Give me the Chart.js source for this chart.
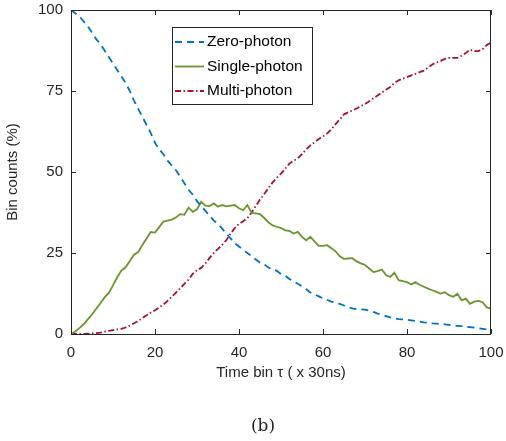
<!DOCTYPE html>
<html>
<head>
<meta charset="utf-8">
<script src="https://cdn.jsdelivr.net/npm/chart.js@4"></script>
<style>
  html, body { margin: 0; padding: 0; background: #fff; }
  #wrap { position: relative; width: 506px; height: 441px; }
  #caption {
    position: absolute; left: 0; width: 526px; top: 415px;
    text-align: center; font-family: "DejaVu Serif", "Liberation Serif", serif;
    font-size: 17px; color: #222;
  }
</style>
</head>
<body>
<div id="wrap">
  <canvas id="photonChart" width="506" height="441"></canvas>
  <div id="caption">(b)</div>
</div>
<script>
// tick labels
var xTicks = [0, 20, 40, 60, 80, 100];
var yTicks = [0, 25, 50, 75, 100];

// bin counts (%) for time bins 0..100
var zeroPhoton = [
  100, 99, 98, 96.5, 95, 93, 91, 89.5, 87.5, 85.5,
  83.5, 81.5, 79.5, 77.5, 75, 72, 69.5, 67, 64.5, 62,
  59, 57, 55.5, 53.5, 52, 50.5, 48.5, 46.5, 44.5, 43,
  41, 39.5, 38, 36.5, 35, 34, 32.5, 31, 29.5, 28,
  27, 26, 25, 24, 23, 22, 21.5, 20.5, 20, 19.5,
  18.5, 18, 17, 16.3, 15.5, 14.7, 13.8, 12.8, 12.2, 11.6,
  11, 10.5, 10, 9.6, 9.3, 8.8, 8.3, 7.9, 7.7, 7.6,
  7.5, 7.2, 6.8, 6.3, 5.9, 5.5, 5.1, 4.8, 4.6, 4.5,
  4.4, 4.2, 4, 3.8, 3.6, 3.5, 3.3, 3.2, 3.1, 3,
  2.8, 2.6, 2.5, 2.4, 2.2, 2.1, 2, 1.8, 1.6, 1.4, 1.3
];
var singlePhoton = [
  0, 0.8, 1.8, 3, 4.5, 6, 7.8, 9.5, 11.3, 12.7,
  15, 17.5, 19.6, 20.6, 22.5, 24.5, 25.3, 27.5, 29.5, 31.5,
  31.3, 33, 34.7, 35, 35.3, 36, 37, 36.8, 39, 37.7,
  38.5, 40.8, 39.6, 39.5, 40.3, 39.3, 39.8, 39.4, 39.6, 39.8,
  38.8, 38.2, 39.8, 37.4, 37.2, 37, 35.8, 34.5, 33.5, 33.1,
  32.7, 32, 31.8, 31, 31.5, 30, 28.9, 30, 28.5, 27.2,
  27.2, 27.4, 26.5, 25.5, 24, 23.2, 23.3, 23.4, 22.4, 21.8,
  21.3, 20.2, 19.1, 19.4, 19.9, 18.2, 17.6, 18.9, 16.6, 16.3,
  16, 15.3, 16, 15.2, 14.6, 14, 13.5, 13, 12.5, 12.9,
  12, 11.5, 12.4, 10.4, 10.9, 9.3, 10, 10.2, 9.8, 8.2, 7.8
];
var multiPhoton = [
  0, 0, 0, 0, 0.1, 0.2, 0.3, 0.4, 0.7, 1,
  1.2, 1.4, 1.6, 2, 2.6, 3.3, 4, 4.9, 5.8, 6.6,
  7.3, 8.2, 9.1, 10.2, 11.5, 12.8, 14.1, 15.5, 16.8, 18.6,
  19.7, 20.4, 21.8, 23.5, 25, 26.3, 27.5, 29, 31, 32.7,
  34, 34.8, 35.8, 37.5, 39.5, 41.5, 43.2, 45, 46.8, 48.2,
  49.5, 51, 52.6, 53.5, 54.2, 55.5, 57, 58.2, 59.2, 60.2,
  61, 61.9, 63.2, 64.8, 66.2, 67.8, 68.4, 69, 69.6, 70.3,
  71, 71.8, 72.8, 73.6, 74.5, 75.4, 76.2, 77.5, 78.3, 78.8,
  79.3, 79.8, 80.3, 80.8, 81.3, 82.2, 83.2, 83.8, 84.3, 84.9,
  85.2, 85.2, 85.2, 85.9, 86.7, 87.8, 87.3, 87.3, 87.9, 89.2, 90
];

var timeBins = zeroPhoton.map(function (v, i) { return i; });

function toPoints(arr) {
  return arr.map(function (v, i) { return { x: timeBins[i], y: v }; });
}

var axisColor = "#262626";
var fontFamily = "'Liberation Sans', Arial, Helvetica, sans-serif";

// MATLAB style box with inward ticks + legend inside the axes
var boxPlugin = {
  id: "boxPlugin",
  afterDraw: function (chart) {
    var ctx = chart.ctx;
    var a = chart.chartArea;
    var xs = chart.scales.x;
    var ys = chart.scales.y;
    ctx.save();
    ctx.strokeStyle = axisColor;
    ctx.lineWidth = 1;
    ctx.strokeRect(a.left + 0.5, a.top + 0.5, a.right - a.left - 1, a.bottom - a.top);
    ctx.beginPath();
    xTicks.forEach(function (v) {
      var px = Math.round(xs.getPixelForValue(v)) + 0.5;
      ctx.moveTo(px, a.bottom); ctx.lineTo(px, a.bottom - 5);
      ctx.moveTo(px, a.top); ctx.lineTo(px, a.top + 5);
    });
    yTicks.forEach(function (v) {
      var py = Math.round(ys.getPixelForValue(v)) + 0.5;
      ctx.moveTo(a.left, py); ctx.lineTo(a.left + 5, py);
      ctx.moveTo(a.right, py); ctx.lineTo(a.right - 5, py);
    });
    ctx.stroke();

    // legend
    var lx = 172, ly = 27, lw = 140, lh = 77;
    ctx.fillStyle = "#fff";
    ctx.fillRect(lx, ly, lw, lh);
    ctx.strokeStyle = axisColor;
    ctx.strokeRect(lx + 0.5, ly + 0.5, lw, lh);
    ctx.font = "15.5px " + fontFamily;
    ctx.textBaseline = "middle";
    chart.data.datasets.forEach(function (ds, i) {
      var y = ly + 15 + i * 24.5;
      ctx.beginPath();
      ctx.strokeStyle = ds.borderColor;
      ctx.lineWidth = ds.borderWidth;
      ctx.setLineDash(ds.borderDash || []);
      ctx.moveTo(175, y); ctx.lineTo(204, y);
      ctx.stroke();
      ctx.setLineDash([]);
      ctx.fillStyle = "#000";
      ctx.fillText(ds.label, 207, y);
    });
    ctx.restore();
  },
};

var ctx = document.getElementById("photonChart").getContext("2d");

var photonChart = new Chart(ctx, {
  type: "line",
  data: {
    datasets: [
      {
        label: "Zero-photon",
        data: toPoints(zeroPhoton),
        borderColor: "#0072BD",
        borderWidth: 1.8,
        borderDash: [7, 5],
      },
      {
        label: "Single-photon",
        data: toPoints(singlePhoton),
        borderColor: "#6B9332",
        borderWidth: 1.8,
      },
      {
        label: "Multi-photon",
        data: toPoints(multiPhoton),
        borderColor: "#A2142F",
        borderWidth: 1.8,
        borderDash: [6, 2.5, 1.5, 2.5],
      },
    ],
  },
  options: {
    responsive: false,
    animation: false,
    elements: { point: { radius: 0 }, line: { tension: 0 } },
    layout: { padding: { left: 0, top: 10, right: 15, bottom: 55 } },
    plugins: { legend: { display: false }, tooltip: { enabled: false } },
    scales: {
      x: {
        type: "linear",
        min: 0,
        max: 100,
        afterBuildTicks: function (s) { s.ticks = xTicks.map(function (v) { return { value: v }; }); },
        afterFit: function (s) { s.height = 52; s.paddingLeft = 0; s.paddingRight = 0; },
        grid: { display: false, drawTicks: false },
        border: { display: false },
        ticks: { color: axisColor, padding: 10, maxRotation: 0, font: { size: 15, family: fontFamily } },
        title: { display: true, text: "Time bin \u03c4 ( x 30ns)", color: axisColor, font: { size: 15, family: fontFamily } },
      },
      y: {
        min: 0,
        max: 100,
        afterBuildTicks: function (s) { s.ticks = yTicks.map(function (v) { return { value: v }; }); },
        afterFit: function (s) { s.width = 71; s.paddingTop = 0; s.paddingBottom = 0; },
        grid: { display: false, drawTicks: false },
        border: { display: false },
        ticks: { color: axisColor, padding: 8, font: { size: 15, family: fontFamily } },
        title: { display: true, text: "Bin counts (%)", color: axisColor, font: { size: 15, family: fontFamily } },
      },
    },
  },
  plugins: [boxPlugin],
});
</script>
</body>
</html>
